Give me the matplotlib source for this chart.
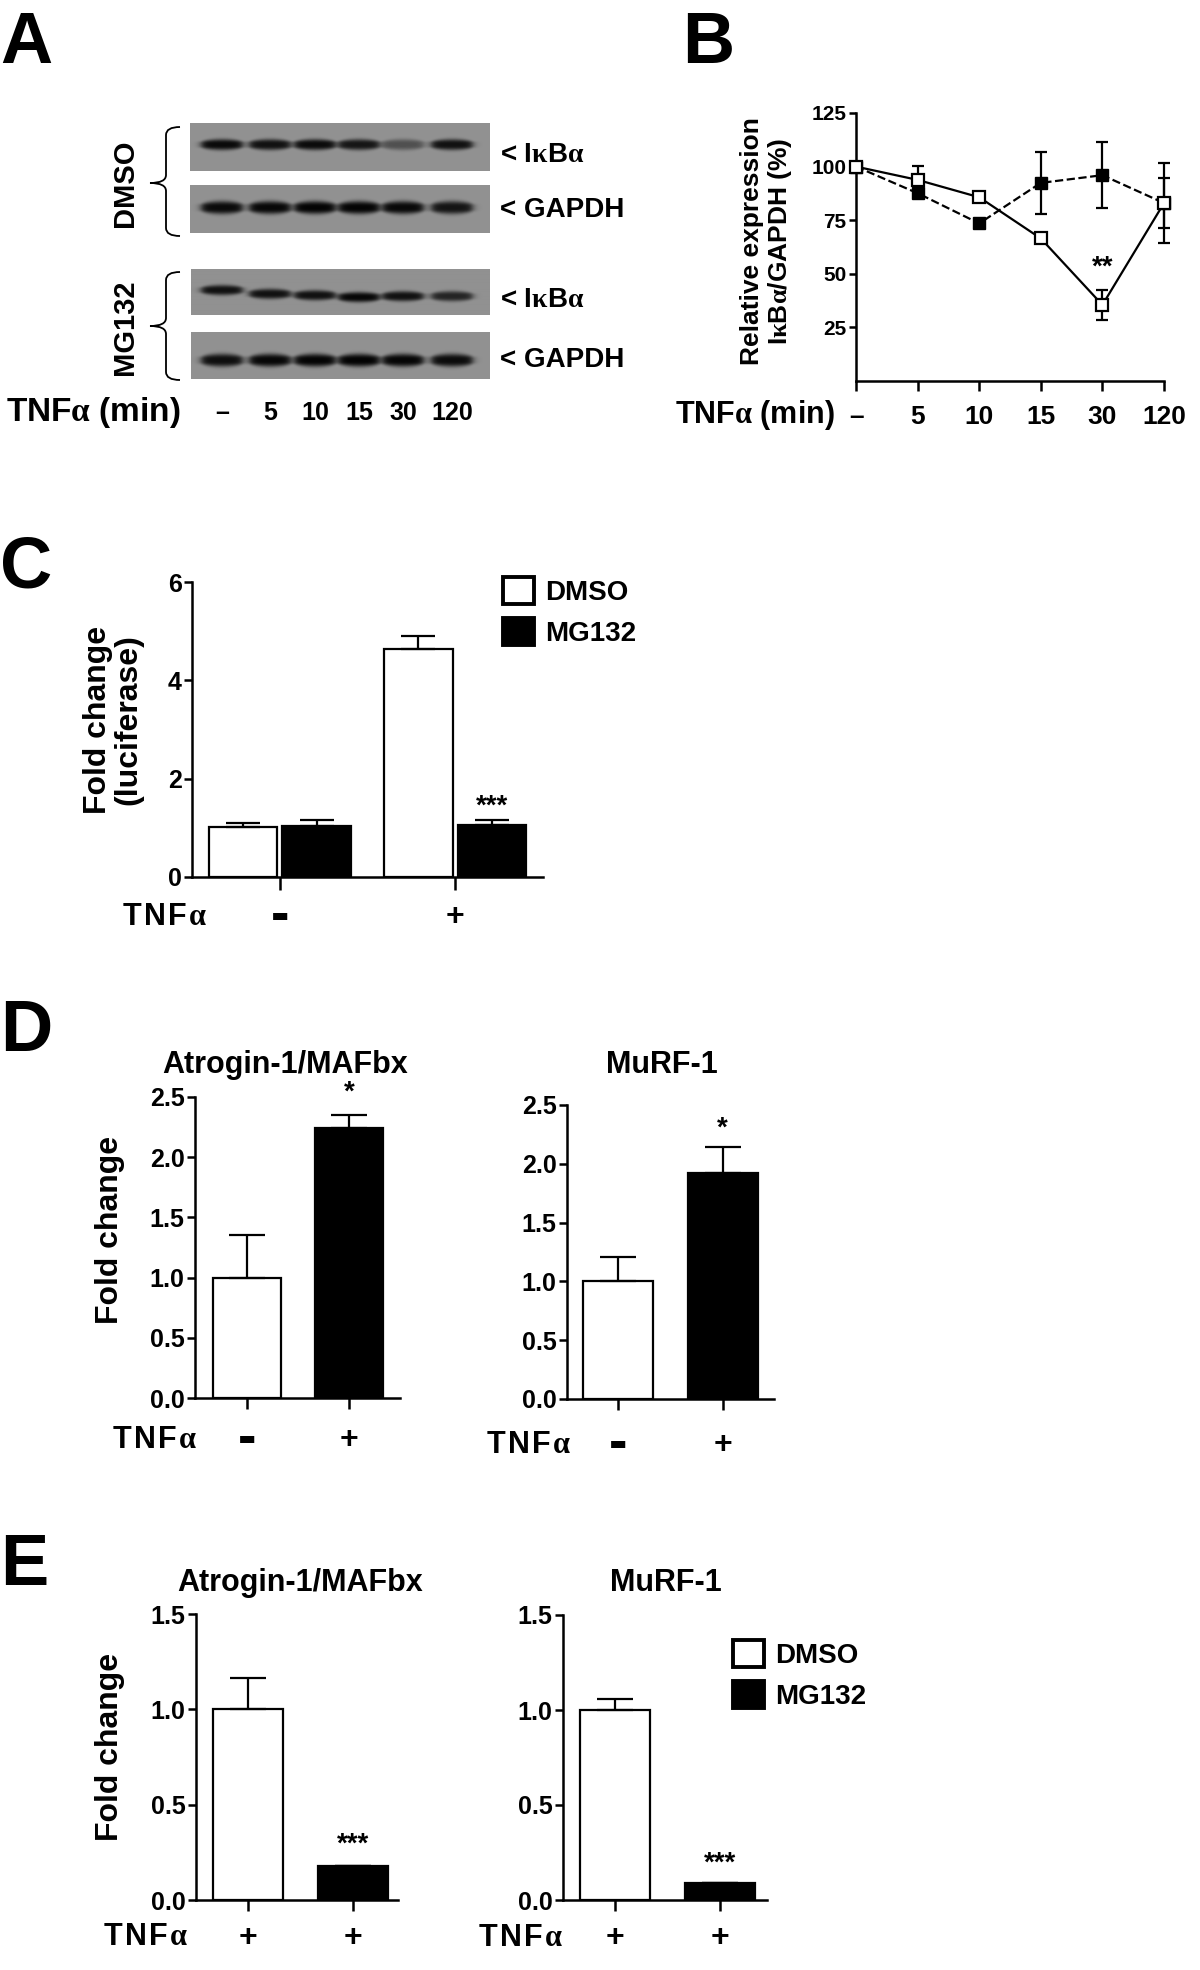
import numpy as np
import matplotlib
matplotlib.use('Agg')
import matplotlib.pyplot as plt
from matplotlib.path import Path
from matplotlib.patches import PathPatch

plt.rcParams['font.family'] = ['Liberation Sans', 'DejaVu Sans']
plt.rcParams['font.weight'] = 'bold'
plt.rcParams['axes.linewidth'] = 1.8
# greek letters in the labels are drawn in a light serif face, as in the figure
plt.rcParams['mathtext.fontset'] = 'custom'
plt.rcParams['mathtext.rm'] = 'Liberation Serif'
plt.rcParams['mathtext.it'] = 'Liberation Serif:italic'
plt.rcParams['mathtext.bf'] = 'Liberation Serif:bold'

W, H = 1200, 1970
ALPHA = r'$\mathrm{\alpha}$'
KAPPA = r'$\mathrm{\kappa}$'
TNF = 'TNF' + ALPHA
TNF_SP = 'T\u200aN\u200aF\u200a' + ALPHA

# ---------------- data ----------------
lanes = ['–', '5', '10', '15', '30', '120']

# panel A: band darkness per lane (read by eye from the blots)
dmso_ikba = [0.93, 0.88, 0.92, 0.85, 0.45, 0.88]
dmso_gapdh = [0.93, 0.95, 0.97, 0.97, 0.94, 0.86]
mg_ikba = [0.88, 0.88, 0.88, 0.95, 0.88, 0.75]
mg_gapdh = [0.9, 0.95, 0.97, 0.98, 0.96, 0.92]

# panel B: relative expression IkBa/GAPDH (%)
dmso_rel = [100, 93.8, 85.7, 66.5, 35.5, 83]
dmso_rel_err = [0, 6.5, 1.5, 2, 7, 11.5]
mg_rel = [100, 87.6, 73.5, 92.4, 96, 83]
mg_rel_err = [0, 2, 1.5, 14.5, 15.5, 18.5]

# panel C: luciferase fold change
tnf_c = ['-', '+']
luc_dmso = [1.01, 4.63]
luc_dmso_err = [0.08, 0.28]
luc_mg = [1.03, 1.06]
luc_mg_err = [0.13, 0.10]

# panel D: fold change, TNFa - / +
tnf_d = ['-', '+']
atro_d = [1.0, 2.24]
atro_d_err = [0.35, 0.11]
murf_d = [1.0, 1.92]
murf_d_err = [0.21, 0.22]

# panel E: fold change, DMSO / MG132 (both TNFa +)
tnf_e = ['+', '+']
atro_e = [1.0, 0.178]
atro_e_err = [0.163, 0.0]
murf_e = [1.0, 0.087]
murf_e_err = [0.06, 0.0]
groups = ['DMSO', 'MG132']

fig = plt.figure(figsize=(W / 100, H / 100), dpi=100)


def px_axes(x0, y0, x1, y1):
    # axes from pixel box (top-left origin)
    return fig.add_axes([x0 / W, 1 - y1 / H, (x1 - x0) / W, (y1 - y0) / H])


ov = fig.add_axes([0, 0, 1, 1])
ov.set_xlim(0, W)
ov.set_ylim(H, 0)
ov.axis('off')

# ---------------- panel letters ----------------
for letter, x, y in [('A', 0, 63), ('B', 682, 63), ('C', 0, 588), ('D', 0, 1051), ('E', 0, 1585)]:
    ov.text(x, y, letter, fontsize=52, ha='left', va='baseline')

# ---------------- panel A: blots ----------------
band_x = [222, 270, 315, 359, 403, 452]


def draw_blot(x0, y0, x1, y1, dark, ypos, thick):
    ax = px_axes(x0, y0, x1, y1)
    w, h = x1 - x0, y1 - y0
    xx, yy = np.meshgrid(np.arange(w) + 0.5, np.arange(h) + 0.5)
    img = np.full((h, w), 0.57)
    for cx, d, fy in zip(band_x, dark, ypos):
        dx = np.abs(xx - (cx - x0))
        px = 1 / (1 + np.exp((dx - 20.5) / 2.2))
        t = thick * (0.6 + 0.4 * np.clip(1 - (dx / 22) ** 2, 0, 1))
        py = np.exp(-np.abs((yy - fy * h) / t) ** 3)
        img = img * (1 - d * px * py)
    ax.imshow(img, cmap='gray', vmin=0, vmax=1, aspect='auto', interpolation='bilinear')
    ax.axis('off')


draw_blot(190, 123, 490, 171, dmso_ikba, [0.45] * 6, 5.5)
draw_blot(190, 185, 490, 233, dmso_gapdh, [0.47] * 6, 6.5)
draw_blot(191, 269, 490, 315, mg_ikba, [0.47, 0.55, 0.58, 0.62, 0.6, 0.6], 5.0)
draw_blot(191, 332, 490, 379, mg_gapdh, [0.6] * 6, 6.5)

ikba = 'I' + KAPPA + 'B' + ALPHA
for txt, y in [('< ' + ikba, 155), ('< GAPDH', 210), ('< ' + ikba, 300), ('< GAPDH', 360)]:
    ov.text(500, y, txt, fontsize=20, ha='left', va='center')


def brace(y_top, y_bot, y_tip, x_end=180, x_mid=166, x_tip=150, r=8):
    verts = [(x_end, y_top), (x_mid, y_top), (x_mid, y_top + r),
             (x_mid, y_tip - r), (x_mid, y_tip), (x_tip, y_tip),
             (x_mid, y_tip), (x_mid, y_tip + r),
             (x_mid, y_bot - r), (x_mid, y_bot), (x_end, y_bot)]
    codes = [Path.MOVETO, Path.CURVE3, Path.CURVE3,
             Path.LINETO, Path.CURVE3, Path.CURVE3,
             Path.CURVE3, Path.CURVE3,
             Path.LINETO, Path.CURVE3, Path.CURVE3]
    ov.add_patch(PathPatch(Path(verts, codes), fill=False, lw=1.3, ec='black'))


brace(127, 236, 183)
brace(272, 380, 326)
ov.text(125, 183, 'DMSO', fontsize=21, rotation=90, ha='center', va='center')
ov.text(125, 327, 'MG132', fontsize=21, rotation=90, ha='center', va='center')

ov.text(6, 413, TNF + ' (min)', fontsize=24, ha='left', va='center')
for x, lab in zip(band_x, lanes):
    ov.text(x, 413, lab, fontsize=18, ha='center', va='center')

# ---------------- panel B ----------------
ax_b = px_axes(856, 113, 1164, 381)
xb = np.arange(len(lanes))
ax_b.errorbar(xb, dmso_rel, yerr=dmso_rel_err, fmt='-s', color='black', mfc='white', mec='black',
              mew=1.6, ms=8, lw=1.6, elinewidth=1.6, capsize=4, capthick=1.6, clip_on=False, zorder=4)
ax_b.errorbar(xb, mg_rel, yerr=mg_rel_err, fmt='--s', color='black', mfc='black', mec='black',
              ms=9, lw=1.6, elinewidth=1.6, capsize=4, capthick=1.6, clip_on=False, zorder=3)
ax_b.set_xlim(0, 5)
ax_b.set_ylim(0, 125)
ax_b.set_yticks([25, 50, 75, 100, 125])
ax_b.set_xticks(xb)
ax_b.set_xticklabels(lanes)
ax_b.tick_params(axis='y', length=5, width=1.8, labelsize=15, pad=2)
ax_b.tick_params(axis='x', length=7, width=1.8, labelsize=19, pad=10)
for s in ['top', 'right']:
    ax_b.spines[s].set_visible(False)
ax_b.text(4, 53, '**', fontsize=20, ha='center', va='center')
ov.text(675, 415, TNF + ' (min)', fontsize=22, ha='left', va='center')
ov.text(767, 241, 'Relative expression\n' + ikba + '/GAPDH (%)', fontsize=19, rotation=90,
        ha='center', va='center', multialignment='center', linespacing=1.05)


def style_bar_axes(ax, ylim, yticks, yfmt, xlabels, drop):
    ax.set_ylim(*ylim)
    ax.set_yticks(yticks)
    ax.set_yticklabels([yfmt.format(t) for t in yticks])
    ax.set_xticks([0, 1])
    ax.set_xticklabels([])
    ax.tick_params(axis='y', length=6, width=1.8, labelsize=18, pad=1.5)
    ax.tick_params(axis='x', length=8, width=1.8)
    for s in ['top', 'right']:
        ax.spines[s].set_visible(False)
    # -/+ labels under the ticks; the minus is a heavy short bar in the figure
    for x, lab in zip([0, 1], xlabels):
        ax.annotate(lab, xy=(x, 0), xycoords=('data', 'axes fraction'), xytext=(0, -drop),
                    textcoords='offset points', ha='center', va='center',
                    fontsize=40 if lab == '-' else 23, annotation_clip=False)


def legend_at(ax, x, y):
    leg = ax.legend(loc='upper left', bbox_to_anchor=(x / W, 1 - y / H), bbox_transform=fig.transFigure,
                    frameon=False, fontsize=20, handlelength=1.1, handleheight=1.1, handletextpad=0.4,
                    labelspacing=0.45, borderpad=0, borderaxespad=0)
    for h in leg.legend_handles:
        h.set_linewidth(2.8)


# ---------------- panel C ----------------
ax_c = px_axes(192, 582, 543, 877)
ax_c.set_xlim(-0.5, 1.5)
gx = np.arange(len(tnf_c))
ax_c.bar(gx - 0.21, luc_dmso, 0.39, color='white', edgecolor='black', lw=1.6, label='DMSO', zorder=2)
ax_c.bar(gx + 0.21, luc_mg, 0.39, color='black', edgecolor='black', lw=1.6, label='MG132', zorder=2)
ax_c.errorbar(gx - 0.21, luc_dmso, yerr=[[0] * 2, luc_dmso_err], fmt='none', ecolor='black',
              elinewidth=1.6, capsize=12, capthick=1.6, zorder=3)
ax_c.errorbar(gx + 0.21, luc_mg, yerr=[[0] * 2, luc_mg_err], fmt='none', ecolor='black',
              elinewidth=1.6, capsize=12, capthick=1.6, zorder=3)
style_bar_axes(ax_c, (0, 6), [0, 2, 4, 6], '{:.0f}', tnf_c, 29)
ax_c.tick_params(axis='x', length=9)
ax_c.text(1.21, 1.43, '***', fontsize=20, ha='center', va='center')
legend_at(ax_c, 503, 577)
ov.text(122, 917, TNF_SP, fontsize=22, ha='left', va='center')
ov.text(113, 720, 'Fold change\n(luciferase)', fontsize=23, rotation=90, ha='center', va='center',
        multialignment='center', linespacing=1.0)


# ---------------- panel D ----------------
def simple_bars(ax, vals, errs, width):
    ax.bar([0, 1], vals, width, color=['white', 'black'], edgecolor='black', lw=1.6, zorder=2)
    ax.errorbar([0, 1], vals, yerr=[[0, 0], errs], fmt='none', ecolor='black',
                elinewidth=1.6, capsize=13, capthick=1.6, zorder=3)


ax_d1 = px_axes(195, 1097, 400, 1398)
ax_d1.set_xlim(-0.51, 1.5)
simple_bars(ax_d1, atro_d, atro_d_err, 0.67)
style_bar_axes(ax_d1, (0, 2.5), [0, 0.5, 1.0, 1.5, 2.0, 2.5], '{:.1f}', tnf_d, 30)
ax_d1.text(1, 2.54, '*', fontsize=20, ha='center', va='center', clip_on=False)

ax_d2 = px_axes(567, 1105, 774, 1399)
ax_d2.set_xlim(-0.49, 1.49)
simple_bars(ax_d2, murf_d, murf_d_err, 0.67)
style_bar_axes(ax_d2, (0, 2.5), [0, 0.5, 1.0, 1.5, 2.0, 2.5], '{:.1f}', tnf_d, 33)
ax_d2.text(1, 2.30, '*', fontsize=20, ha='center', va='center')

ov.text(285, 1065, 'Atrogin-1/MAFbx', fontsize=22, ha='center', va='center')
ov.text(662, 1065, 'MuRF-1', fontsize=22, ha='center', va='center')
ov.text(112, 1440, TNF_SP, fontsize=22, ha='left', va='center')
ov.text(486, 1445, TNF_SP, fontsize=22, ha='left', va='center')
ov.text(110, 1230, 'Fold change', fontsize=23, rotation=90, ha='center', va='center')

# ---------------- panel E ----------------
ax_e1 = px_axes(196, 1614, 398, 1900)
ax_e1.set_xlim(-0.495, 1.43)
simple_bars(ax_e1, atro_e, atro_e_err, 0.66)
style_bar_axes(ax_e1, (0, 1.5), [0, 0.5, 1.0, 1.5], '{:.1f}', tnf_e, 27)
ax_e1.text(1, 0.29, '***', fontsize=20, ha='center', va='center')

ax_e2 = px_axes(563, 1615, 767, 1900)
ax_e2.set_xlim(-0.495, 1.448)
for p, v, c, lab in zip([0, 1], murf_e, ['white', 'black'], groups):
    ax_e2.bar(p, v, 0.66, color=c, edgecolor='black', lw=1.6, label=lab, zorder=2)
ax_e2.errorbar([0, 1], murf_e, yerr=[[0, 0], murf_e_err], fmt='none', ecolor='black',
               elinewidth=1.6, capsize=13, capthick=1.6, zorder=3)
style_bar_axes(ax_e2, (0, 1.5), [0, 0.5, 1.0, 1.5], '{:.1f}', tnf_e, 27.5)
ax_e2.text(1, 0.19, '***', fontsize=20, ha='center', va='center')
legend_at(ax_e2, 733, 1640)

ov.text(300, 1583, 'Atrogin-1/MAFbx', fontsize=22, ha='center', va='center')
ov.text(666, 1583, 'MuRF-1', fontsize=22, ha='center', va='center')
ov.text(103, 1937, TNF_SP, fontsize=22, ha='left', va='center')
ov.text(478, 1938, TNF_SP, fontsize=22, ha='left', va='center')
ov.text(110, 1747, 'Fold change', fontsize=23, rotation=90, ha='center', va='center')

fig.savefig('out.png', dpi=100)
